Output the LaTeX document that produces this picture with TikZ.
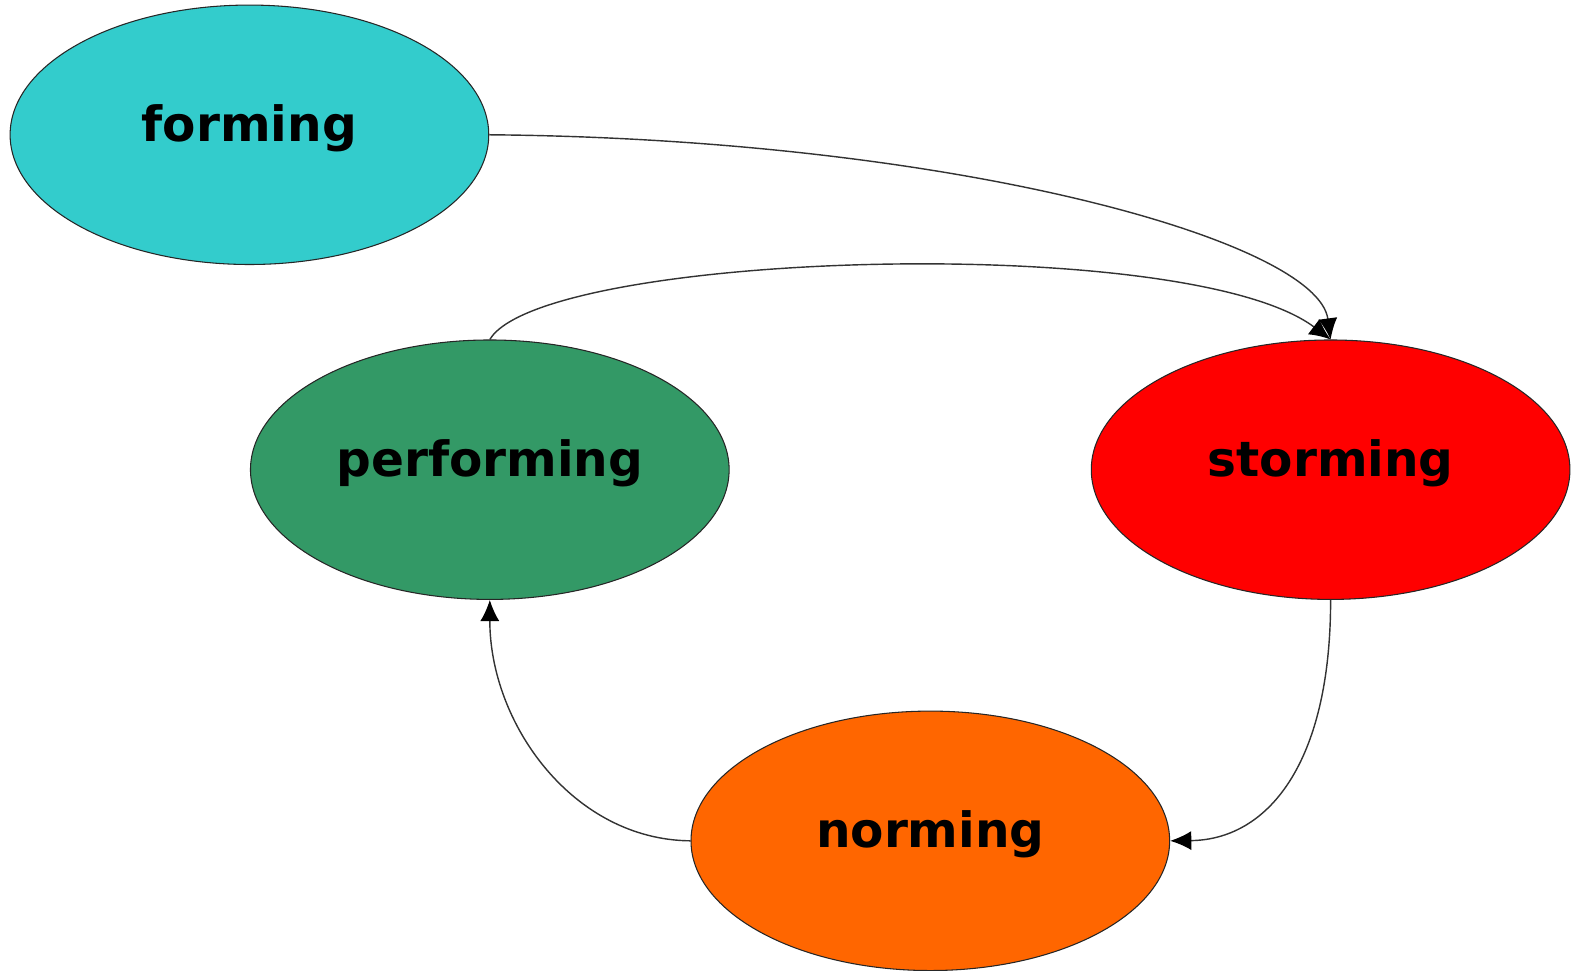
\documentclass[tikz,border=0pt]{standalone}
\usepackage{fontspec}
\setmainfont{DejaVu Sans}
\usetikzlibrary{shapes.geometric,arrows.meta}
\definecolor{cform}{HTML}{33CCCC}
\definecolor{cperf}{HTML}{339966}
\definecolor{cstorm}{HTML}{FF0000}
\definecolor{cnorm}{HTML}{FF6600}
\begin{document}
\begin{tikzpicture}[x=0.02cm,y=-0.02cm,
  state/.style={ellipse,draw=black!85,line width=0.6pt,minimum width=9.52cm,minimum height=5.16cm,inner sep=0pt,text height=0.5cm,text depth=0.22cm,font=\fontsize{27.5}{30}\selectfont\bfseries},
  conn/.style={draw=black!80,line width=0.8pt,-{Latex[length=0.42cm,width=0.38cm,color=black]}}]
\useasboundingbox (0,0) rectangle (1567,965);
\node[state,fill=cform]  (forming)    at (248,134) {forming};
\node[state,fill=cperf]  (performing) at (487,467) {performing};
\node[state,fill=cstorm] (storming)   at (1323,467) {storming};
\node[state,fill=cnorm]  (norming)    at (925,836) {norming};
\draw[conn] (forming.east) .. controls (950,138) and (1310,240) .. (storming.north);
\draw[conn] (performing.north) .. controls (540,250) and (1180,230) .. (storming.north);
\draw[conn] (storming.south) .. controls (1323,760) and (1260,835) .. (norming.east);
\draw[conn] (norming.west) .. controls (570,835) and (487,720) .. (performing.south);
\end{tikzpicture}
\end{document}
